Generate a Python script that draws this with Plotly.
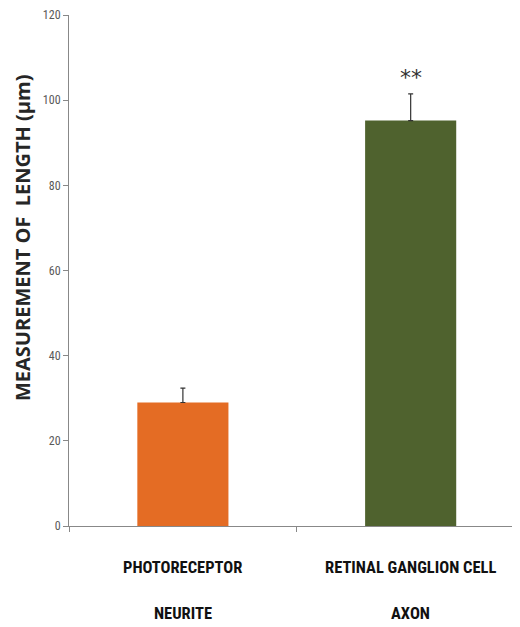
import plotly.graph_objects as go

categories = ["PHOTORECEPTOR NEURITE", "RETINAL GANGLION CELL AXON"]
label_line1 = ["PHOTORECEPTOR", "RETINAL GANGLION CELL"]
label_line2 = ["NEURITE", "AXON"]
values = [29.0, 95.2]
errors_up = [3.4, 6.3]
bar_colors = ["#E46C24", "#4F622E"]
significance = ["", "**"]
y_ticks = [0, 20, 40, 60, 80, 100, 120]

# page has an 8px body margin, so the figure is 8px smaller than the window
W, H = 512, 619
ML, MR, MT, MB = 61, 0, 7, 101
plot_h = H - MT - MB
plot_bottom = H - MB

label_font = dict(family="Roboto Condensed, Liberation Sans Narrow, Arial Narrow, Roboto",
                  size=16.5, color="#111111", weight="bold")

fig = go.Figure()
fig.add_trace(go.Bar(
    x=categories, y=values, width=0.4,
    marker=dict(color=bar_colors, line=dict(width=0)),
    error_y=dict(type="data", symmetric=False, array=errors_up,
                 arrayminus=[0] * len(values), color="#333333",
                 thickness=1.2, width=2.5),
    showlegend=False,
))

annotations = []
for i, c in enumerate(categories):
    annotations.append(dict(x=c, xref="x", y=-(559 - plot_bottom) / plot_h, yref="paper",
                            text=label_line1[i], showarrow=False, font=label_font,
                            xanchor="center", yanchor="middle"))
    annotations.append(dict(x=c, xref="x", y=-(605 - plot_bottom) / plot_h, yref="paper",
                            text=label_line2[i], showarrow=False, font=label_font,
                            xanchor="center", yanchor="middle"))
    if significance[i]:
        annotations.append(dict(x=c, xref="x", y=values[i] + errors_up[i] + 0.5, yref="y",
                                text=significance[i], showarrow=False,
                                font=dict(family="DejaVu Sans", size=22, color="#333333"),
                                xanchor="center", yanchor="bottom"))

annotations.append(dict(x=-47 / (W - ML - MR), xref="paper",
                        y=(plot_bottom - 230) / plot_h, yref="paper",
                        text="MEASUREMENT OF  LENGTH (µm)", textangle=-90,
                        showarrow=False,
                        font=dict(family="Open Sans", size=20, color="#262626", weight="bold"),
                        xanchor="center", yanchor="middle"))

fig.update_layout(
    width=W, height=H,
    margin=dict(l=ML, r=MR, t=MT, b=MB, autoexpand=False),
    paper_bgcolor="white", plot_bgcolor="white",
    annotations=annotations,
    xaxis=dict(type="category", range=[-0.5, 1.48], showticklabels=False,
               tickson="boundaries", ticks="outside", ticklen=5, tickcolor="#888888",
               showline=True, linecolor="#888888", linewidth=1, showgrid=False,
               zeroline=False),
    yaxis=dict(range=[0, 120], tickvals=y_ticks, ticks="outside", ticklen=5,
               tickcolor="#888888", showline=True, linecolor="#888888", linewidth=1,
               showgrid=False, zeroline=False,
               tickfont=dict(family="Roboto Condensed, Liberation Sans Narrow, Roboto",
                             size=12, color="#595959")),
)

fig.write_html("out.html")
